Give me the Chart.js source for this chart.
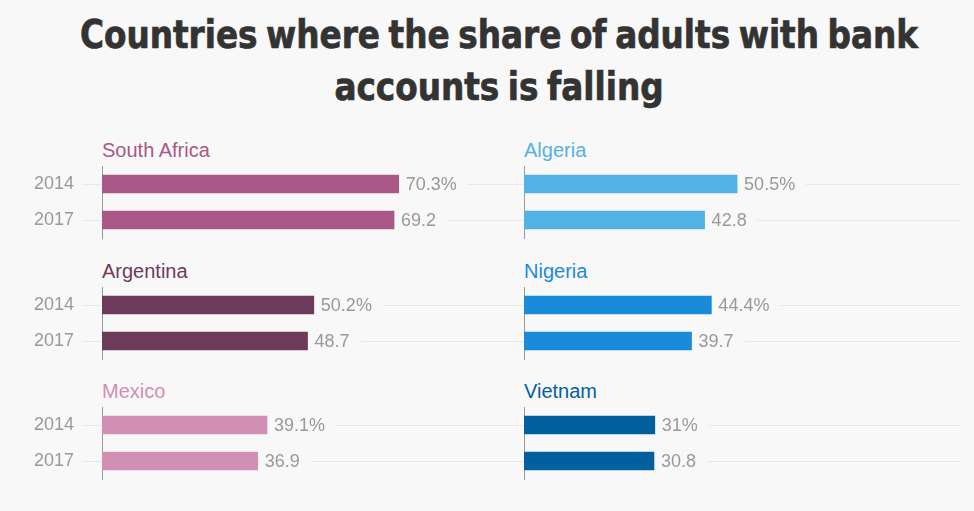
<!DOCTYPE html>
<html>
<head>
<meta charset="utf-8">
<script src="https://cdn.jsdelivr.net/npm/chart.js@4.4.1/dist/chart.umd.min.js"></script>
<style>
body { margin: 0; background: #f8f8f8; width: 974px; height: 511px; overflow: hidden; position: relative; font-family: "Liberation Sans", Arial, sans-serif; }
h1 { position: absolute; top: 9px; left: 12px; width: 974px; margin: 0; text-align: center; font: bold 39px/52px "Liberation Sans Narrow", "DejaVu Sans Condensed", "Liberation Sans", sans-serif; color: #333; -webkit-text-stroke: 0.7px #333; word-spacing: -3px; transform-origin: 50% 0; }
h1 span { display: inline-block; white-space: nowrap; }
.ptitle { position: absolute; font-size: 20px; line-height: 24px; white-space: nowrap; }
canvas { position: absolute; }
</style>
</head>
<body>
<h1><span id="line1">Countries where the share of adults with bank</span><br><span>accounts is falling</span></h1>

<script>
// share of adults with a bank account, %
const years = ['2014', '2017'];
const countries = ['South Africa', 'Algeria', 'Argentina', 'Nigeria', 'Mexico', 'Vietnam'];
const share2014 = [70.3, 50.5, 50.2, 44.4, 39.1, 31];
const share2017 = [69.2, 42.8, 48.7, 39.7, 36.9, 30.8];
const colors = ['#a95887', '#53b2e5', '#6d3a5a', '#1a8bd8', '#d18fb4', '#02609f'];

const bg = '#f8f8f8';
const valueFont = '18px "Liberation Sans", Arial, sans-serif';

// squeeze the headline to the width of the original
const line1 = document.getElementById('line1');
const h1 = document.querySelector('h1');
h1.style.transform = 'scaleX(' + (838 / line1.getBoundingClientRect().width) + ')';

// gridlines behind everything, value labels after the bars
const panelDecor = {
    id: 'panelDecor',
    beforeDraw(chart, args, opts) {
        const ctx = chart.ctx;
        const yScale = chart.scales.y;
        ctx.save();
        ctx.strokeStyle = '#e8e8e8';
        ctx.lineWidth = 1;
        yScale.ticks.forEach((t, i) => {
            const py = Math.round(yScale.getPixelForTick(i)) + 0.5;
            ctx.beginPath();
            ctx.moveTo(opts.gridFrom, py);
            ctx.lineTo(opts.gridTo, py);
            ctx.stroke();
        });
        ctx.restore();
    },
    afterDatasetsDraw(chart) {
        const ctx = chart.ctx;
        const data = chart.data.datasets[0].data;
        ctx.save();
        ctx.font = valueFont;
        ctx.textBaseline = 'middle';
        chart.getDatasetMeta(0).data.forEach((bar, i) => {
            const txt = i === 0 ? data[i] + '%' : String(data[i]);
            const x = bar.x + 7;
            const w = ctx.measureText(txt).width;
            ctx.fillStyle = bg;
            ctx.fillRect(bar.x + 1, bar.y - 10, w + 17, 20);
            ctx.fillStyle = '#999';
            ctx.fillText(txt, x, bar.y + 1);
        });
        ctx.restore();
    }
};

countries.forEach((name, i) => {
    const col = i % 2;
    const row = Math.floor(i / 2);
    const axisX = col === 0 ? 102 : 524;

    const title = document.createElement('div');
    title.className = 'ptitle';
    title.textContent = name;
    title.style.left = axisX + 'px';
    title.style.top = (138 + row * 120.5) + 'px';
    title.style.color = colors[i];
    document.body.appendChild(title);

    const canvas = document.createElement('canvas');
    const left = col === 0 ? 0 : 487;
    const width = col === 0 ? 524 : 487;
    canvas.width = width;
    canvas.height = 80;
    canvas.style.left = left + 'px';
    canvas.style.top = Math.round(162 + row * 120.5) + 'px';
    canvas.style.width = width + 'px';
    canvas.style.height = '80px';
    document.body.appendChild(canvas);

    new Chart(canvas, {
        type: 'bar',
        data: {
            labels: years,
            datasets: [{
                data: [share2014[i], share2017[i]],
                backgroundColor: colors[i],
                borderWidth: 0,
                barThickness: 18
            }]
        },
        options: {
            indexAxis: 'y',
            responsive: false,
            animation: false,
            devicePixelRatio: 1,
            layout: { padding: { top: 4, bottom: 4, left: 0, right: col === 0 ? 0 : 28 } },
            plugins: {
                legend: { display: false },
                tooltip: { enabled: false },
                panelDecor: col === 0 ? { gridFrom: 40, gridTo: 524 } : { gridFrom: 0, gridTo: 474 }
            },
            scales: {
                x: { min: 0, max: 100, display: false },
                y: {
                    grid: { display: false },
                    border: { display: true, color: '#999', width: 1 },
                    ticks: {
                        display: col === 0,
                        color: '#999',
                        font: { family: '"Liberation Sans", Arial, sans-serif', size: 18 },
                        padding: 20,
                        showLabelBackdrop: true,
                        backdropColor: bg,
                        backdropPadding: { left: 8, right: 8, top: 0, bottom: 0 }
                    },
                    afterFit(scale) {
                        scale.width = col === 0 ? 102 : 37;
                        // tick padding would otherwise eat the panel height
                        scale.paddingTop = 0;
                        scale.paddingBottom = 0;
                    }
                }
            }
        },
        plugins: [panelDecor]
    });
});
</script>
</body>
</html>
